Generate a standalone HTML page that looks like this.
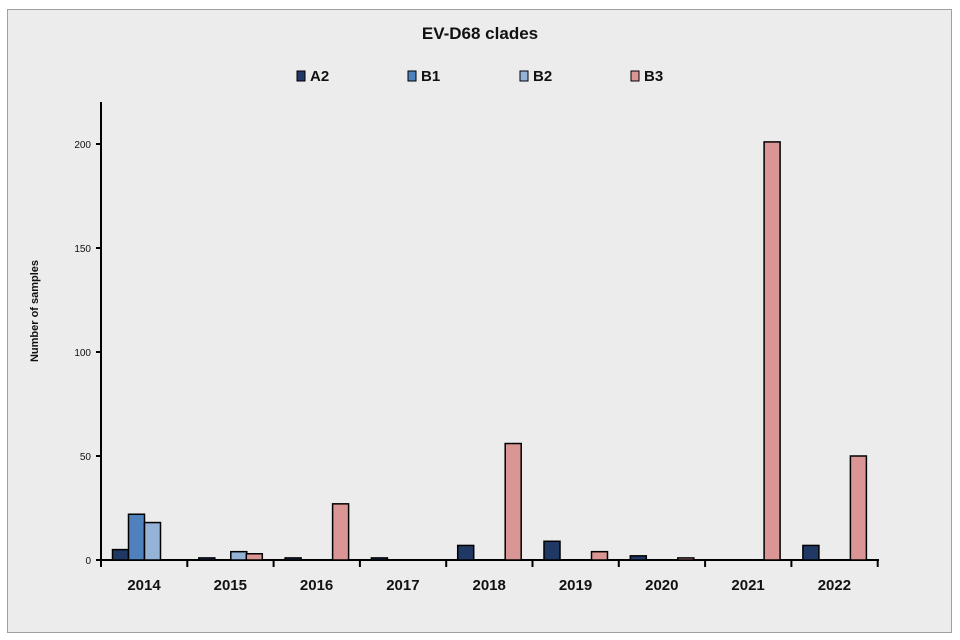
<!DOCTYPE html>
<html><head><meta charset="utf-8"><style>
body{margin:0;background:#fff;}
svg{display:block;font-family:"Liberation Sans",sans-serif;}
</style></head><body>
<svg width="960" height="640" viewBox="0 0 960 640">
<rect x="7.5" y="9.5" width="944" height="623" fill="#ececec" stroke="#a0a0a0"/>
<text x="480" y="39" text-anchor="middle" font-size="17" font-weight="bold" fill="#111">EV-D68 clades</text>
<g font-size="15" font-weight="bold" fill="#111">
<rect x="297" y="71" width="8" height="10" fill="#1f3864" stroke="#000"/><text x="310" y="81">A2</text>
<rect x="408" y="71" width="8" height="10" fill="#4f81bd" stroke="#000"/><text x="421" y="81">B1</text>
<rect x="520" y="71" width="8" height="10" fill="#95b3d7" stroke="#000"/><text x="533" y="81">B2</text>
<rect x="631" y="71" width="8" height="10" fill="#d99694" stroke="#000"/><text x="644" y="81">B3</text>
</g>
<text transform="translate(38,311) rotate(-90)" text-anchor="middle" font-size="11" font-weight="bold" fill="#111">Number of samples</text>
<g font-size="10" fill="#111" text-anchor="end">
<text x="91" y="148">200</text><text x="91" y="252">150</text><text x="91" y="356">100</text><text x="91" y="460">50</text><text x="91" y="564">0</text>
</g>
<g stroke="#000" stroke-width="2">
<line x1="101" y1="102" x2="101" y2="561"/>
<line x1="100" y1="560" x2="879" y2="560"/>
<line x1="96" y1="144" x2="101" y2="144"/><line x1="96" y1="248" x2="101" y2="248"/><line x1="96" y1="352" x2="101" y2="352"/><line x1="96" y1="456" x2="101" y2="456"/><line x1="96" y1="560" x2="101" y2="560"/>
</g>
<g id="bars" stroke="#000" stroke-width="1.5"></g>
<g id="xt" stroke="#000" stroke-width="2"></g>
<g id="xl" font-size="15" font-weight="bold" fill="#111" text-anchor="middle"></g>
<script>
var d=[[5,22,18,0],[1,0,4,3],[1,0,0,27],[1,0,0,0],[7,0,0,56],[9,0,0,4],[2,0,0,1],[0,0,0,201],[7,0,0,50]];
var c=["#1f3864","#4f81bd","#95b3d7","#d99694"],off=[11.5,27.5,43.5,59],ns="http://www.w3.org/2000/svg";
var b=document.getElementById("bars"),xt=document.getElementById("xt"),xl=document.getElementById("xl");
for(var g=0;g<=9;g++){var x=101+g*86.3;var l=document.createElementNS(ns,"line");l.setAttribute("x1",x);l.setAttribute("x2",x);l.setAttribute("y1",560);l.setAttribute("y2",567);xt.appendChild(l);}
for(var g=0;g<9;g++){var gx=101+g*86.3;
var t=document.createElementNS(ns,"text");t.setAttribute("x",gx+43);t.setAttribute("y",590);t.textContent=2014+g;xl.appendChild(t);
for(var s=0;s<4;s++){var v=d[g][s];if(!v)continue;var h=v*2.08;var r=document.createElementNS(ns,"rect");
r.setAttribute("x",gx+off[s]);r.setAttribute("y",560-h);r.setAttribute("width",16);r.setAttribute("height",h);r.setAttribute("fill",c[s]);b.appendChild(r);}}
</script>
</svg>
</body></html>
